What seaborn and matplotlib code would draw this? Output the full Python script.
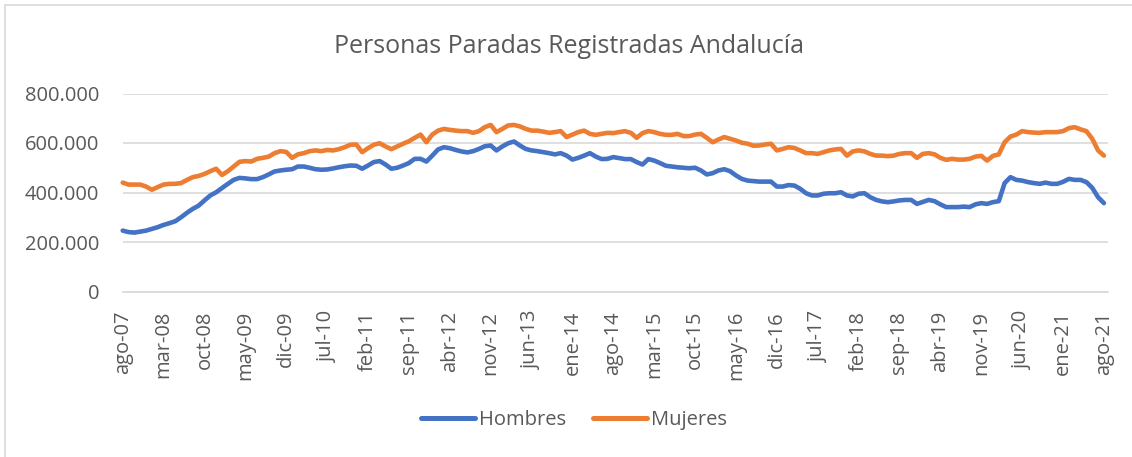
import pandas as pd
import matplotlib.pyplot as plt
from matplotlib.lines import Line2D
import seaborn as sns

# personas paradas (miles), mensual desde ago-07 hasta ago-21
hombres_miles = [
    246, 240, 238, 242, 246, 253, 260, 269, 276, 284,
    300, 318, 334, 347, 368, 388, 401, 418, 435, 451,
    459, 457, 454, 454, 462, 473, 485, 489, 492, 494,
    505, 505, 500, 494, 492, 493, 497, 502, 506, 509,
    508, 496, 509, 523, 527, 513, 496, 500, 509, 519,
    536, 536, 525, 549, 574, 583, 579, 572, 566, 562,
    567, 576, 587, 590, 570, 586, 599, 606, 590, 576,
    570, 567, 563, 559, 554, 559, 549, 533, 540, 549,
    559, 545, 535, 536, 543, 539, 535, 535, 523, 513,
    535, 529, 519, 508, 505, 502, 500, 498, 500, 489,
    473, 478, 489, 494, 486, 469, 455, 448, 446, 444,
    444, 444, 424, 424, 430, 428, 415, 397, 388, 388,
    395, 397, 397, 401, 388, 384, 395, 397, 381, 370,
    364, 361, 364, 368, 370, 370, 354, 362, 370, 365,
    352, 341, 341, 341, 343, 341, 352, 357, 354, 361,
    365, 438, 462, 451, 448, 442, 438, 435, 440, 435,
    435, 443, 455, 451, 451, 442, 419, 381, 357,
]
mujeres_miles = [
    440, 432, 432, 432, 424, 411, 422, 432, 435, 435,
    438, 451, 462, 467, 475, 486, 496, 471, 486, 505,
    524, 527, 525, 536, 540, 545, 559, 567, 564, 540,
    554, 559, 567, 570, 567, 572, 570, 575, 583, 593,
    594, 563, 579, 593, 599, 586, 575, 586, 597, 607,
    621, 634, 603, 634, 650, 657, 653, 650, 648, 648,
    641, 648, 664, 673, 644, 657, 671, 673, 667, 657,
    650, 650, 646, 641, 644, 648, 624, 634, 644, 650,
    637, 633, 637, 641, 640, 644, 648, 641, 621, 640,
    648, 644, 637, 633, 633, 637, 628, 628, 634, 637,
    621, 603, 614, 624, 617, 610, 601, 597, 589, 590,
    594, 597, 570, 576, 583, 580, 570, 559, 559, 556,
    563, 570, 574, 576, 549, 566, 570, 566, 556, 549,
    549, 547, 549, 556, 559, 559, 540, 556, 559, 554,
    540, 532, 536, 533, 533, 536, 545, 548, 529, 548,
    554, 603, 626, 634, 648, 644, 642, 641, 644, 644,
    644, 648, 660, 664, 655, 648, 617, 570, 549,
]
etiquetas_x = ['ago-07', 'mar-08', 'oct-08', 'may-09', 'dic-09', 'jul-10',
               'feb-11', 'sep-11', 'abr-12', 'nov-12', 'jun-13', 'ene-14',
               'ago-14', 'mar-15', 'oct-15', 'may-16', 'dic-16', 'jul-17',
               'feb-18', 'sep-18', 'abr-19', 'nov-19', 'jun-20', 'ene-21',
               'ago-21']
ticks_y = [0, 200000, 400000, 600000, 800000]

meses = list(range(len(hombres_miles)))
df = pd.DataFrame({
    'mes': meses + meses,
    'personas': [v * 1000 for v in hombres_miles] + [v * 1000 for v in mujeres_miles],
    'sexo': ['Hombres'] * len(meses) + ['Mujeres'] * len(meses),
})

sns.set_style('white')
plt.rcParams['font.family'] = ['Open Sans', 'DejaVu Sans']
gris = '#595959'
gris_claro = '#d9d9d9'

W, H = 1132, 457
fig = plt.figure(figsize=(W / 100, H / 100), dpi=100)
ax = fig.add_axes([122.7 / W, 1 - 291.5 / H, (1108 - 122.7) / W, (291.5 - 93.5) / H])

sns.lineplot(data=df, x='mes', y='personas', hue='sexo',
             palette={'Hombres': '#4472C4', 'Mujeres': '#ED7D31'},
             linewidth=3.3, ax=ax)
for ln in ax.get_lines():
    ln.set_clip_on(False)
    ln.set_solid_joinstyle('round')
    ln.set_solid_capstyle('round')

ax.set_xlim(0, 168.7)
ax.set_ylim(0, 800000)
ax.set_xticks(range(0, 169, 7))
ax.set_xticklabels(etiquetas_x, rotation=90, fontsize=14.5, color=gris)
ax.set_yticks(ticks_y)
ax.set_yticklabels([f'{v:,.0f}'.replace(',', '.') for v in ticks_y], fontsize=14.5, color=gris)
ax.tick_params(axis='x', length=5, width=1, color=gris_claro, pad=9)
ax.tick_params(axis='y', length=0, pad=17)
ax.yaxis.grid(True, color=gris_claro, linewidth=1.2)
ax.set_axisbelow(True)
for s in ['top', 'right', 'left']:
    ax.spines[s].set_visible(False)
ax.spines['bottom'].set_color(gris_claro)
ax.spines['bottom'].set_linewidth(1.2)
ax.set_xlabel('')
ax.set_ylabel('')

# leyenda abajo, centrada
handles, labels = ax.get_legend_handles_labels()
ax.legend_.remove()
for h in handles:
    h.set_linewidth(3.6)
    h.set_solid_capstyle('round')
fig.legend(handles, labels, loc='center', bbox_to_anchor=(0.507, 1 - 420 / H),
           ncol=2, frameon=False, fontsize=14.5, labelcolor=gris,
           handlelength=2.7, handletextpad=0.2, columnspacing=1.3)

fig.text(0.503, 1 - 52.7 / H, 'Personas Paradas Registradas Andalucía',
         ha='center', va='baseline', fontsize=18, color=gris)

# borde del gráfico (solo visible arriba e izquierda)
fig.add_artist(Line2D([4.5 / W, 4.5 / W], [0, 1 - 4.5 / H], color=gris_claro, lw=1.2,
                      transform=fig.transFigure))
fig.add_artist(Line2D([4.5 / W, 1], [1 - 4.5 / H, 1 - 4.5 / H], color=gris_claro, lw=1.2,
                      transform=fig.transFigure))

fig.savefig('out.png', dpi=100)
